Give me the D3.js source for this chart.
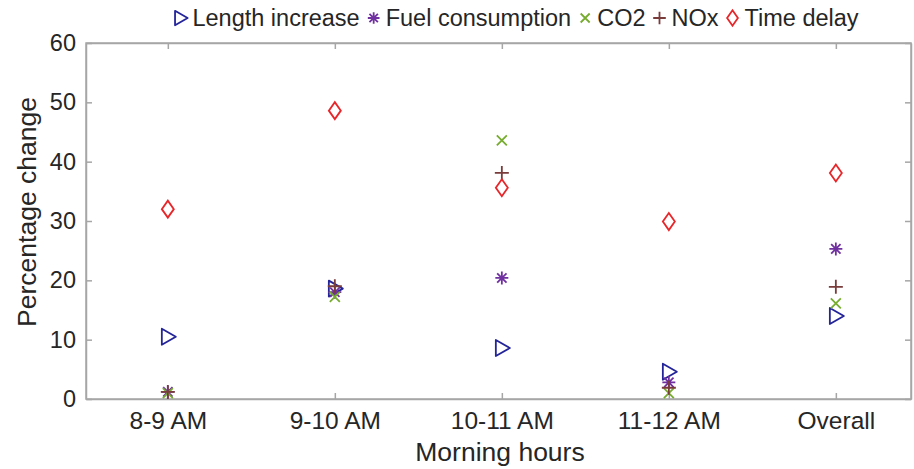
<!DOCTYPE html>
<html>
<head>
<meta charset="utf-8">
<script src="https://cdn.jsdelivr.net/npm/d3@7"></script>
<style>
  html, body { margin: 0; padding: 0; background: #fff; }
  svg { display: block; font-family: "Liberation Sans", Arial, sans-serif; }
</style>
</head>
<body>
<svg id="chart" width="914" height="469"></svg>
<script>
const categories = ["8-9 AM", "9-10 AM", "10-11 AM", "11-12 AM", "Overall"];
const lengthIncrease = [10.5, 18.6, 8.6, 4.6, 14.0];
const fuelConsumption = [1.2, 18.0, 20.4, 2.8, 25.3];
const co2 = [1.0, 17.2, 43.6, 1.0, 16.1];
const nox = [1.2, 19.0, 38.1, 1.9, 18.9];
const timeDelay = [32.0, 48.6, 35.6, 29.9, 38.1];
const yTicks = [0, 10, 20, 30, 40, 50, 60];
const seriesNames = ["Length increase", "Fuel consumption", "CO2", "NOx", "Time delay"];

const series = [
  { name: seriesNames[0], values: lengthIncrease, color: "#24249a", shape: "tri" },
  { name: seriesNames[1], values: fuelConsumption, color: "#7030a0", shape: "star" },
  { name: seriesNames[2], values: co2, color: "#77ac30", shape: "x" },
  { name: seriesNames[3], values: nox, color: "#7a3b3b", shape: "plus" },
  { name: seriesNames[4], values: timeDelay, color: "#e8262a", shape: "diamond" }
];

const svg = d3.select("#chart");
const L = 86, R = 911, T = 43, B = 399;

const x = d3.scaleLinear().domain([0.51, 5.45]).range([L, R]);
const y = d3.scaleLinear().domain([0, 60]).range([B, T]);

const axisColor = "#a6a6a6";
const textColor = "#262626";

svg.append("rect").attr("x", L).attr("y", T).attr("width", R - L).attr("height", B - T)
  .attr("fill", "none").attr("stroke", axisColor).attr("stroke-width", 1.5);

const catIdx = categories.map((c, i) => i + 1);

const gB = svg.append("g").attr("transform", `translate(0,${B})`)
  .call(d3.axisBottom(x).tickValues(catIdx).tickFormat((d, i) => categories[i]).tickSizeInner(-6).tickSizeOuter(0).tickPadding(13));
const gT = svg.append("g").attr("transform", `translate(0,${T})`)
  .call(d3.axisTop(x).tickValues(catIdx).tickFormat("").tickSizeInner(-6).tickSizeOuter(0));
const gL = svg.append("g").attr("transform", `translate(${L},0)`)
  .call(d3.axisLeft(y).tickValues(yTicks).tickSizeInner(-6).tickSizeOuter(0).tickPadding(10));
const gR = svg.append("g").attr("transform", `translate(${R},0)`)
  .call(d3.axisRight(y).tickValues(yTicks).tickFormat("").tickSizeInner(-6).tickSizeOuter(0));

[gB, gT, gL, gR].forEach(g => {
  g.select(".domain").attr("stroke", axisColor).attr("stroke-width", 1.5);
  g.selectAll(".tick line").attr("stroke", axisColor).attr("stroke-width", 1.5);
  g.selectAll(".tick text").attr("fill", textColor)
    .attr("font-family", "Liberation Sans, Arial, sans-serif");
});
gL.selectAll(".tick text").attr("font-size", 23.5);
gB.selectAll(".tick text").attr("font-size", 24.5).attr("dy", "0.71em");

svg.append("text").attr("x", 500).attr("y", 461).attr("text-anchor", "middle")
  .attr("font-size", 26.5).attr("fill", textColor).text("Morning hours");
svg.append("text").attr("transform", `translate(36,212) rotate(-90)`)
  .attr("text-anchor", "middle").attr("font-size", 26.5).attr("fill", textColor).text("Percentage change");

function drawMarker(g, shape, color, cx, cy, s) {
  s = s || 1;
  const sw = 1.8;
  if (shape === "tri") {
    g.append("path").attr("d", `M${cx - 6 * s},${cy - 8 * s} L${cx + 8 * s},${cy} L${cx - 6 * s},${cy + 8 * s} Z`)
      .attr("fill", "none").attr("stroke", color).attr("stroke-width", sw).attr("stroke-linejoin", "round");
  } else if (shape === "diamond") {
    g.append("path").attr("d", `M${cx},${cy - 8.5 * s} L${cx + 6 * s},${cy} L${cx},${cy + 8.5 * s} L${cx - 6 * s},${cy} Z`)
      .attr("fill", "none").attr("stroke", color).attr("stroke-width", sw);
  } else if (shape === "x") {
    const r = 5 * s;
    g.append("path").attr("d", `M${cx - r},${cy - r} L${cx + r},${cy + r} M${cx - r},${cy + r} L${cx + r},${cy - r}`)
      .attr("stroke", color).attr("stroke-width", sw);
  } else if (shape === "plus") {
    const r = 7 * s;
    g.append("path").attr("d", `M${cx - r},${cy} L${cx + r},${cy} M${cx},${cy - r} L${cx},${cy + r}`)
      .attr("stroke", color).attr("stroke-width", sw);
  } else if (shape === "star") {
    const r = 6.5 * s, d = r * 0.72;
    g.append("path").attr("d", `M${cx - r},${cy} L${cx + r},${cy} M${cx},${cy - r} L${cx},${cy + r} M${cx - d},${cy - d} L${cx + d},${cy + d} M${cx - d},${cy + d} L${cx + d},${cy - d}`)
      .attr("stroke", color).attr("stroke-width", sw);
  }
}

const gP = svg.append("g");
series.forEach(sr => {
  sr.values.forEach((v, i) => {
    drawMarker(gP, sr.shape, sr.color, x(i + 1), y(v));
  });
});

// Legend: sequential layout, centered
const gLeg = svg.append("g");
const legFont = 23.5;
const items = series.map(sr => {
  const g = gLeg.append("g");
  drawMarker(g, sr.shape, sr.color, 0, 18, 0.9);
  const t = g.append("text").attr("x", 12).attr("y", 18).attr("dy", "0.35em")
    .attr("font-size", legFont).attr("fill", textColor).text(sr.name);
  return { g, w: 12 + t.node().getComputedTextLength() };
});
const gap = 14;
const totalW = items.reduce((a, it) => a + it.w, 0) + gap * (items.length - 1) + 7;
let cur = 516 - totalW / 2 + 7;
items.forEach(it => {
  it.g.attr("transform", `translate(${cur},0)`);
  cur += it.w + gap;
});
</script>
</body>
</html>
